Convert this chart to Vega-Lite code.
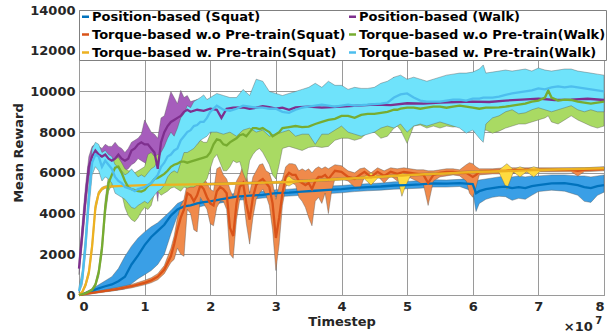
{
  "$schema": "https://vega.github.io/schema/vega-lite/v6.json",
  "width": 525,
  "height": 285,
  "autosize": "none",
  "padding": {"left": 79, "top": 10, "right": 11, "bottom": 40},
  "background": "white",
  "config": {
    "view": {"stroke": "#808080", "strokeWidth": 1},
    "axis": {
      "labelFont": "DejaVu Sans", "labelFontSize": 13, "labelFontWeight": "bold", "labelColor": "#262626",
      "titleFont": "DejaVu Sans", "titleFontSize": 13, "titleFontWeight": "bold", "titleColor": "#262626",
      "gridColor": "#9a9a9a", "gridWidth": 1, "domain": false, "ticks": false
    }
  },
  "datasets": {
    "runs": [
      {"s":"PS","t":0,"m":0,"lo":0,"hi":0},
      {"s":"PS","t":0.1,"m":80,"lo":30,"hi":150},
      {"s":"PS","t":0.2,"m":200,"lo":80,"hi":300},
      {"s":"PS","t":0.3,"m":330,"lo":150,"hi":500},
      {"s":"PS","t":0.4,"m":430,"lo":170,"hi":700},
      {"s":"PS","t":0.5,"m":520,"lo":200,"hi":900},
      {"s":"PS","t":0.6,"m":680,"lo":250,"hi":1300},
      {"s":"PS","t":0.7,"m":900,"lo":300,"hi":1900},
      {"s":"PS","t":0.8,"m":1500,"lo":550,"hi":2400},
      {"s":"PS","t":0.9,"m":1950,"lo":800,"hi":2800},
      {"s":"PS","t":1.0,"m":2450,"lo":1000,"hi":3100},
      {"s":"PS","t":1.1,"m":2850,"lo":1200,"hi":3350},
      {"s":"PS","t":1.2,"m":3150,"lo":1500,"hi":3550},
      {"s":"PS","t":1.3,"m":3450,"lo":2000,"hi":3850},
      {"s":"PS","t":1.4,"m":3900,"lo":3000,"hi":4150},
      {"s":"PS","t":1.5,"m":4200,"lo":3900,"hi":4500},
      {"s":"PS","t":1.6,"m":4350,"lo":4150,"hi":4650},
      {"s":"PS","t":1.7,"m":4400,"lo":4200,"hi":4650},
      {"s":"PS","t":1.8,"m":4500,"lo":4300,"hi":4700},
      {"s":"PS","t":1.9,"m":4560,"lo":4380,"hi":4760},
      {"s":"PS","t":2.0,"m":4600,"lo":4420,"hi":4800},
      {"s":"PS","t":2.2,"m":4720,"lo":4550,"hi":4900},
      {"s":"PS","t":2.4,"m":4830,"lo":4650,"hi":5000},
      {"s":"PS","t":2.6,"m":4880,"lo":4700,"hi":5060},
      {"s":"PS","t":2.8,"m":4920,"lo":4760,"hi":5100},
      {"s":"PS","t":3.0,"m":5000,"lo":4830,"hi":5170},
      {"s":"PS","t":3.2,"m":5030,"lo":4860,"hi":5200},
      {"s":"PS","t":3.4,"m":5080,"lo":4900,"hi":5250},
      {"s":"PS","t":3.6,"m":5120,"lo":4950,"hi":5300},
      {"s":"PS","t":3.8,"m":5160,"lo":4980,"hi":5350},
      {"s":"PS","t":4.0,"m":5200,"lo":5020,"hi":5380},
      {"s":"PS","t":4.2,"m":5260,"lo":5080,"hi":5430},
      {"s":"PS","t":4.4,"m":5300,"lo":5120,"hi":5470},
      {"s":"PS","t":4.6,"m":5330,"lo":5150,"hi":5500},
      {"s":"PS","t":4.8,"m":5380,"lo":5200,"hi":5560},
      {"s":"PS","t":5.0,"m":5400,"lo":5220,"hi":5580},
      {"s":"PS","t":5.2,"m":5430,"lo":5250,"hi":5620},
      {"s":"PS","t":5.4,"m":5480,"lo":5300,"hi":5660},
      {"s":"PS","t":5.6,"m":5470,"lo":5300,"hi":5650},
      {"s":"PS","t":5.8,"m":5500,"lo":5330,"hi":5680},
      {"s":"PS","t":6.0,"m":5450,"lo":5100,"hi":5750},
      {"s":"PS","t":6.05,"m":5000,"lo":4100,"hi":5600},
      {"s":"PS","t":6.1,"m":5100,"lo":4500,"hi":5650},
      {"s":"PS","t":6.2,"m":5200,"lo":4700,"hi":5700},
      {"s":"PS","t":6.3,"m":5250,"lo":4800,"hi":5750},
      {"s":"PS","t":6.4,"m":5300,"lo":4850,"hi":5800},
      {"s":"PS","t":6.5,"m":5320,"lo":4830,"hi":5850},
      {"s":"PS","t":6.6,"m":5250,"lo":4650,"hi":5800},
      {"s":"PS","t":6.7,"m":5300,"lo":4750,"hi":5850},
      {"s":"PS","t":6.8,"m":5250,"lo":4700,"hi":5800},
      {"s":"PS","t":6.9,"m":5350,"lo":4900,"hi":5850},
      {"s":"PS","t":7.0,"m":5400,"lo":5080,"hi":5850},
      {"s":"PS","t":7.2,"m":5480,"lo":5150,"hi":5900},
      {"s":"PS","t":7.4,"m":5500,"lo":5100,"hi":5900},
      {"s":"PS","t":7.6,"m":5400,"lo":4900,"hi":5850},
      {"s":"PS","t":7.7,"m":5300,"lo":4600,"hi":5850},
      {"s":"PS","t":7.8,"m":5250,"lo":4550,"hi":5800},
      {"s":"PS","t":7.9,"m":5350,"lo":4900,"hi":5850},
      {"s":"PS","t":8.0,"m":5400,"lo":5050,"hi":5900},

      {"s":"ToS","t":0,"m":0,"lo":0,"hi":0},
      {"s":"ToS","t":0.2,"m":100,"lo":60,"hi":140},
      {"s":"ToS","t":0.4,"m":200,"lo":150,"hi":260},
      {"s":"ToS","t":0.6,"m":300,"lo":240,"hi":380},
      {"s":"ToS","t":0.8,"m":430,"lo":350,"hi":520},
      {"s":"ToS","t":1.0,"m":600,"lo":500,"hi":720},
      {"s":"ToS","t":1.1,"m":720,"lo":600,"hi":850},
      {"s":"ToS","t":1.2,"m":900,"lo":750,"hi":1050},
      {"s":"ToS","t":1.3,"m":1250,"lo":1050,"hi":1450},
      {"s":"ToS","t":1.4,"m":1900,"lo":1600,"hi":2300},
      {"s":"ToS","t":1.45,"m":2500,"lo":1750,"hi":2900},
      {"s":"ToS","t":1.5,"m":3200,"lo":2300,"hi":3800},
      {"s":"ToS","t":1.55,"m":3800,"lo":2000,"hi":4400},
      {"s":"ToS","t":1.6,"m":4200,"lo":1900,"hi":4700},
      {"s":"ToS","t":1.65,"m":5000,"lo":4200,"hi":5500},
      {"s":"ToS","t":1.7,"m":4900,"lo":4000,"hi":5600},
      {"s":"ToS","t":1.75,"m":4600,"lo":3200,"hi":5300},
      {"s":"ToS","t":1.8,"m":4900,"lo":3100,"hi":5500},
      {"s":"ToS","t":1.85,"m":5400,"lo":4800,"hi":5900},
      {"s":"ToS","t":1.9,"m":5200,"lo":4500,"hi":5800},
      {"s":"ToS","t":1.95,"m":4800,"lo":4200,"hi":5500},
      {"s":"ToS","t":2.0,"m":4500,"lo":3500,"hi":5200},
      {"s":"ToS","t":2.05,"m":4400,"lo":3400,"hi":5100},
      {"s":"ToS","t":2.1,"m":5100,"lo":4300,"hi":6200},
      {"s":"ToS","t":2.15,"m":5300,"lo":4600,"hi":6300},
      {"s":"ToS","t":2.2,"m":5200,"lo":4600,"hi":5900},
      {"s":"ToS","t":2.25,"m":5000,"lo":4200,"hi":5700},
      {"s":"ToS","t":2.3,"m":3300,"lo":2000,"hi":5200},
      {"s":"ToS","t":2.35,"m":2900,"lo":1800,"hi":4800},
      {"s":"ToS","t":2.4,"m":4500,"lo":3700,"hi":5600},
      {"s":"ToS","t":2.45,"m":5300,"lo":4700,"hi":5900},
      {"s":"ToS","t":2.5,"m":5500,"lo":4900,"hi":6400},
      {"s":"ToS","t":2.55,"m":4500,"lo":3500,"hi":6000},
      {"s":"ToS","t":2.6,"m":3700,"lo":2500,"hi":5000},
      {"s":"ToS","t":2.65,"m":4800,"lo":3800,"hi":5800},
      {"s":"ToS","t":2.7,"m":5400,"lo":4700,"hi":6100},
      {"s":"ToS","t":2.75,"m":5600,"lo":5000,"hi":6400},
      {"s":"ToS","t":2.8,"m":5700,"lo":5200,"hi":6450},
      {"s":"ToS","t":2.85,"m":5500,"lo":4900,"hi":6100},
      {"s":"ToS","t":2.9,"m":5300,"lo":4400,"hi":6000},
      {"s":"ToS","t":2.95,"m":4500,"lo":3200,"hi":5500},
      {"s":"ToS","t":3.0,"m":2800,"lo":1200,"hi":4700},
      {"s":"ToS","t":3.05,"m":3800,"lo":2500,"hi":5400},
      {"s":"ToS","t":3.1,"m":5000,"lo":4400,"hi":5700},
      {"s":"ToS","t":3.15,"m":5800,"lo":5300,"hi":6300},
      {"s":"ToS","t":3.2,"m":6000,"lo":5600,"hi":6450},
      {"s":"ToS","t":3.25,"m":5900,"lo":5500,"hi":6450},
      {"s":"ToS","t":3.3,"m":5900,"lo":5400,"hi":6400},
      {"s":"ToS","t":3.35,"m":5600,"lo":4800,"hi":6100},
      {"s":"ToS","t":3.4,"m":5500,"lo":4600,"hi":6200},
      {"s":"ToS","t":3.45,"m":5400,"lo":4300,"hi":6100},
      {"s":"ToS","t":3.5,"m":5500,"lo":3800,"hi":6200},
      {"s":"ToS","t":3.55,"m":5200,"lo":3400,"hi":6000},
      {"s":"ToS","t":3.6,"m":5600,"lo":4600,"hi":6200},
      {"s":"ToS","t":3.65,"m":5800,"lo":4800,"hi":6300},
      {"s":"ToS","t":3.7,"m":5800,"lo":4500,"hi":6200},
      {"s":"ToS","t":3.75,"m":5900,"lo":5000,"hi":6300},
      {"s":"ToS","t":3.8,"m":5700,"lo":4000,"hi":6200},
      {"s":"ToS","t":3.85,"m":5900,"lo":5100,"hi":6300},
      {"s":"ToS","t":3.9,"m":6100,"lo":5700,"hi":6400},
      {"s":"ToS","t":4.0,"m":6050,"lo":5700,"hi":6350},
      {"s":"ToS","t":4.1,"m":5800,"lo":5600,"hi":6100},
      {"s":"ToS","t":4.2,"m":5700,"lo":5300,"hi":6000},
      {"s":"ToS","t":4.28,"m":5900,"lo":5200,"hi":6200},
      {"s":"ToS","t":4.35,"m":6050,"lo":5800,"hi":6250},
      {"s":"ToS","t":4.45,"m":5800,"lo":5400,"hi":6000},
      {"s":"ToS","t":4.55,"m":6050,"lo":5850,"hi":6250},
      {"s":"ToS","t":4.65,"m":5850,"lo":5500,"hi":6100},
      {"s":"ToS","t":4.75,"m":6050,"lo":5850,"hi":6250},
      {"s":"ToS","t":4.85,"m":5950,"lo":5600,"hi":6200},
      {"s":"ToS","t":4.95,"m":6050,"lo":5800,"hi":6250},
      {"s":"ToS","t":5.05,"m":6000,"lo":5750,"hi":6200},
      {"s":"ToS","t":5.15,"m":5950,"lo":5600,"hi":6150},
      {"s":"ToS","t":5.25,"m":5900,"lo":5400,"hi":6150},
      {"s":"ToS","t":5.32,"m":5500,"lo":4400,"hi":6100},
      {"s":"ToS","t":5.4,"m":5900,"lo":5600,"hi":6100},
      {"s":"ToS","t":5.5,"m":6000,"lo":5800,"hi":6150},
      {"s":"ToS","t":5.6,"m":6050,"lo":5850,"hi":6200},
      {"s":"ToS","t":5.7,"m":6050,"lo":5900,"hi":6200},
      {"s":"ToS","t":5.8,"m":6000,"lo":5850,"hi":6150},
      {"s":"ToS","t":5.9,"m":6000,"lo":5600,"hi":6400},
      {"s":"ToS","t":5.95,"m":5900,"lo":5000,"hi":6500},
      {"s":"ToS","t":6.0,"m":5800,"lo":4800,"hi":6450},
      {"s":"ToS","t":6.05,"m":5900,"lo":5300,"hi":6300},
      {"s":"ToS","t":6.1,"m":6050,"lo":5900,"hi":6200},
      {"s":"ToS","t":6.3,"m":6100,"lo":5950,"hi":6200},
      {"s":"ToS","t":6.5,"m":6100,"lo":5950,"hi":6250},
      {"s":"ToS","t":6.7,"m":6150,"lo":6000,"hi":6250},
      {"s":"ToS","t":7.0,"m":6150,"lo":6050,"hi":6250},
      {"s":"ToS","t":7.3,"m":6150,"lo":6050,"hi":6250},
      {"s":"ToS","t":7.5,"m":6150,"lo":6050,"hi":6250},
      {"s":"ToS","t":7.6,"m":6100,"lo":5850,"hi":6250},
      {"s":"ToS","t":7.7,"m":6150,"lo":6050,"hi":6250},
      {"s":"ToS","t":8.0,"m":6200,"lo":6100,"hi":6300},

      {"s":"TwS","t":0,"m":0,"lo":0,"hi":0},
      {"s":"TwS","t":0.05,"m":150,"lo":100,"hi":200},
      {"s":"TwS","t":0.1,"m":500,"lo":400,"hi":600},
      {"s":"TwS","t":0.15,"m":1100,"lo":950,"hi":1250},
      {"s":"TwS","t":0.2,"m":2400,"lo":2200,"hi":2600},
      {"s":"TwS","t":0.25,"m":4300,"lo":4100,"hi":4500},
      {"s":"TwS","t":0.3,"m":5000,"lo":4900,"hi":5100},
      {"s":"TwS","t":0.35,"m":5220,"lo":5150,"hi":5290},
      {"s":"TwS","t":0.4,"m":5300,"lo":5240,"hi":5360},
      {"s":"TwS","t":0.5,"m":5340,"lo":5290,"hi":5390},
      {"s":"TwS","t":1.0,"m":5400,"lo":5350,"hi":5450},
      {"s":"TwS","t":1.5,"m":5420,"lo":5370,"hi":5470},
      {"s":"TwS","t":2.0,"m":5450,"lo":5400,"hi":5500},
      {"s":"TwS","t":2.5,"m":5490,"lo":5440,"hi":5540},
      {"s":"TwS","t":3.0,"m":5530,"lo":5480,"hi":5580},
      {"s":"TwS","t":3.1,"m":5540,"lo":5480,"hi":5600},
      {"s":"TwS","t":3.2,"m":5550,"lo":5350,"hi":5850},
      {"s":"TwS","t":3.25,"m":5560,"lo":5450,"hi":5700},
      {"s":"TwS","t":3.3,"m":5580,"lo":5520,"hi":5640},
      {"s":"TwS","t":3.5,"m":5610,"lo":5550,"hi":5670},
      {"s":"TwS","t":4.0,"m":5700,"lo":5640,"hi":5760},
      {"s":"TwS","t":4.35,"m":5760,"lo":5700,"hi":5820},
      {"s":"TwS","t":4.45,"m":5780,"lo":5400,"hi":6000},
      {"s":"TwS","t":4.55,"m":5800,"lo":5740,"hi":5860},
      {"s":"TwS","t":4.85,"m":5860,"lo":5800,"hi":5920},
      {"s":"TwS","t":4.92,"m":5870,"lo":4850,"hi":6000},
      {"s":"TwS","t":4.97,"m":5880,"lo":5300,"hi":5950},
      {"s":"TwS","t":5.05,"m":5900,"lo":5840,"hi":5960},
      {"s":"TwS","t":5.5,"m":5960,"lo":5900,"hi":6020},
      {"s":"TwS","t":6.0,"m":6040,"lo":5980,"hi":6100},
      {"s":"TwS","t":6.4,"m":6080,"lo":6020,"hi":6140},
      {"s":"TwS","t":6.52,"m":6090,"lo":5200,"hi":6450},
      {"s":"TwS","t":6.62,"m":6100,"lo":6040,"hi":6160},
      {"s":"TwS","t":6.72,"m":6110,"lo":5800,"hi":6300},
      {"s":"TwS","t":6.82,"m":6120,"lo":6060,"hi":6180},
      {"s":"TwS","t":6.93,"m":6130,"lo":5800,"hi":6300},
      {"s":"TwS","t":7.03,"m":6140,"lo":6080,"hi":6200},
      {"s":"TwS","t":7.5,"m":6180,"lo":6120,"hi":6240},
      {"s":"TwS","t":8.0,"m":6220,"lo":6160,"hi":6280},

      {"s":"PW","t":0,"m":1300,"lo":1000,"hi":1700},
      {"s":"PW","t":0.05,"m":3000,"lo":2500,"hi":3600},
      {"s":"PW","t":0.1,"m":4800,"lo":4200,"hi":5400},
      {"s":"PW","t":0.15,"m":6300,"lo":5800,"hi":6800},
      {"s":"PW","t":0.2,"m":6800,"lo":6200,"hi":7300},
      {"s":"PW","t":0.25,"m":7100,"lo":6500,"hi":7400},
      {"s":"PW","t":0.3,"m":6900,"lo":6300,"hi":7300},
      {"s":"PW","t":0.35,"m":6800,"lo":6100,"hi":7200},
      {"s":"PW","t":0.4,"m":6900,"lo":6200,"hi":7400},
      {"s":"PW","t":0.45,"m":6700,"lo":6100,"hi":7300},
      {"s":"PW","t":0.5,"m":6600,"lo":6000,"hi":7300},
      {"s":"PW","t":0.55,"m":6700,"lo":6000,"hi":7500},
      {"s":"PW","t":0.6,"m":6900,"lo":5900,"hi":7300},
      {"s":"PW","t":0.65,"m":6700,"lo":6000,"hi":7200},
      {"s":"PW","t":0.7,"m":6600,"lo":6100,"hi":7000},
      {"s":"PW","t":0.75,"m":6700,"lo":6200,"hi":7200},
      {"s":"PW","t":0.8,"m":7100,"lo":6400,"hi":7500},
      {"s":"PW","t":0.85,"m":7200,"lo":6500,"hi":7600},
      {"s":"PW","t":0.9,"m":7400,"lo":6700,"hi":7700},
      {"s":"PW","t":0.95,"m":7500,"lo":6600,"hi":7900},
      {"s":"PW","t":1.0,"m":7400,"lo":6500,"hi":8600},
      {"s":"PW","t":1.05,"m":7400,"lo":6400,"hi":8300},
      {"s":"PW","t":1.1,"m":7200,"lo":6200,"hi":8000},
      {"s":"PW","t":1.15,"m":7000,"lo":5800,"hi":7900},
      {"s":"PW","t":1.2,"m":6200,"lo":4600,"hi":7700},
      {"s":"PW","t":1.25,"m":7500,"lo":6400,"hi":8700},
      {"s":"PW","t":1.3,"m":8000,"lo":7000,"hi":8800},
      {"s":"PW","t":1.35,"m":8300,"lo":7300,"hi":9400},
      {"s":"PW","t":1.4,"m":8500,"lo":7600,"hi":9990},
      {"s":"PW","t":1.45,"m":8600,"lo":7700,"hi":9700},
      {"s":"PW","t":1.5,"m":8700,"lo":7900,"hi":9400},
      {"s":"PW","t":1.55,"m":8800,"lo":8000,"hi":10050},
      {"s":"PW","t":1.6,"m":9000,"lo":8100,"hi":9700},
      {"s":"PW","t":1.65,"m":9100,"lo":8300,"hi":9800},
      {"s":"PW","t":1.7,"m":9000,"lo":8500,"hi":9500},
      {"s":"PW","t":1.8,"m":9100,"lo":8700,"hi":9600},
      {"s":"PW","t":1.9,"m":9050,"lo":8600,"hi":9500},
      {"s":"PW","t":2.0,"m":9150,"lo":8800,"hi":9400},
      {"s":"PW","t":2.1,"m":9100,"lo":8800,"hi":9350},
      {"s":"PW","t":2.17,"m":8700,"lo":8000,"hi":9300},
      {"s":"PW","t":2.25,"m":9150,"lo":8900,"hi":9400},
      {"s":"PW","t":2.35,"m":9200,"lo":9000,"hi":9400},
      {"s":"PW","t":2.5,"m":9220,"lo":9050,"hi":9400},
      {"s":"PW","t":2.6,"m":9150,"lo":9000,"hi":9350},
      {"s":"PW","t":2.7,"m":9200,"lo":9050,"hi":9350},
      {"s":"PW","t":2.8,"m":9280,"lo":9120,"hi":9420},
      {"s":"PW","t":2.9,"m":9230,"lo":9080,"hi":9380},
      {"s":"PW","t":3.0,"m":9150,"lo":8950,"hi":9320},
      {"s":"PW","t":3.1,"m":9200,"lo":9050,"hi":9350},
      {"s":"PW","t":3.2,"m":9100,"lo":8700,"hi":9350},
      {"s":"PW","t":3.3,"m":9220,"lo":9080,"hi":9360},
      {"s":"PW","t":3.5,"m":9250,"lo":9100,"hi":9400},
      {"s":"PW","t":3.7,"m":9200,"lo":9080,"hi":9330},
      {"s":"PW","t":4.0,"m":9250,"lo":9130,"hi":9380},
      {"s":"PW","t":4.25,"m":9300,"lo":9180,"hi":9420},
      {"s":"PW","t":4.5,"m":9350,"lo":9230,"hi":9470},
      {"s":"PW","t":4.75,"m":9330,"lo":9210,"hi":9450},
      {"s":"PW","t":5.0,"m":9420,"lo":9300,"hi":9540},
      {"s":"PW","t":5.25,"m":9400,"lo":9280,"hi":9520},
      {"s":"PW","t":5.5,"m":9450,"lo":9330,"hi":9570},
      {"s":"PW","t":5.75,"m":9480,"lo":9360,"hi":9600},
      {"s":"PW","t":6.0,"m":9500,"lo":9380,"hi":9620},
      {"s":"PW","t":6.25,"m":9480,"lo":9360,"hi":9600},
      {"s":"PW","t":6.5,"m":9550,"lo":9430,"hi":9670},
      {"s":"PW","t":6.75,"m":9600,"lo":9480,"hi":9720},
      {"s":"PW","t":7.0,"m":9650,"lo":9530,"hi":9770},
      {"s":"PW","t":7.25,"m":9580,"lo":9460,"hi":9700},
      {"s":"PW","t":7.5,"m":9600,"lo":9480,"hi":9720},
      {"s":"PW","t":7.75,"m":9640,"lo":9520,"hi":9760},
      {"s":"PW","t":8.0,"m":9580,"lo":9460,"hi":9700},

      {"s":"ToW","t":0,"m":0,"lo":0,"hi":0},
      {"s":"ToW","t":0.1,"m":80,"lo":40,"hi":120},
      {"s":"ToW","t":0.2,"m":250,"lo":180,"hi":320},
      {"s":"ToW","t":0.25,"m":500,"lo":400,"hi":600},
      {"s":"ToW","t":0.3,"m":1100,"lo":900,"hi":1300},
      {"s":"ToW","t":0.35,"m":2300,"lo":2000,"hi":2600},
      {"s":"ToW","t":0.4,"m":4300,"lo":3900,"hi":4700},
      {"s":"ToW","t":0.45,"m":5500,"lo":5100,"hi":5900},
      {"s":"ToW","t":0.5,"m":5900,"lo":5400,"hi":6400},
      {"s":"ToW","t":0.55,"m":6250,"lo":5600,"hi":6700},
      {"s":"ToW","t":0.6,"m":6300,"lo":5500,"hi":6750},
      {"s":"ToW","t":0.65,"m":6000,"lo":5000,"hi":6500},
      {"s":"ToW","t":0.7,"m":5600,"lo":4300,"hi":6200},
      {"s":"ToW","t":0.75,"m":5300,"lo":3900,"hi":6100},
      {"s":"ToW","t":0.8,"m":5200,"lo":3700,"hi":6100},
      {"s":"ToW","t":0.85,"m":5150,"lo":3600,"hi":6000},
      {"s":"ToW","t":0.9,"m":5100,"lo":3800,"hi":6100},
      {"s":"ToW","t":0.95,"m":5080,"lo":4100,"hi":6200},
      {"s":"ToW","t":1.0,"m":5150,"lo":4300,"hi":6300},
      {"s":"ToW","t":1.05,"m":5350,"lo":4200,"hi":6900},
      {"s":"ToW","t":1.1,"m":5500,"lo":4400,"hi":7000},
      {"s":"ToW","t":1.15,"m":5700,"lo":5000,"hi":6800},
      {"s":"ToW","t":1.2,"m":5750,"lo":5100,"hi":6900},
      {"s":"ToW","t":1.25,"m":5850,"lo":4900,"hi":6900},
      {"s":"ToW","t":1.3,"m":5950,"lo":5000,"hi":6900},
      {"s":"ToW","t":1.35,"m":6100,"lo":5100,"hi":6850},
      {"s":"ToW","t":1.4,"m":6300,"lo":5250,"hi":6900},
      {"s":"ToW","t":1.45,"m":6400,"lo":5300,"hi":7000},
      {"s":"ToW","t":1.5,"m":6450,"lo":5200,"hi":7100},
      {"s":"ToW","t":1.55,"m":6550,"lo":5100,"hi":7200},
      {"s":"ToW","t":1.6,"m":6550,"lo":5300,"hi":7300},
      {"s":"ToW","t":1.65,"m":6500,"lo":5250,"hi":7600},
      {"s":"ToW","t":1.7,"m":6550,"lo":5300,"hi":7700},
      {"s":"ToW","t":1.75,"m":6600,"lo":5300,"hi":7500},
      {"s":"ToW","t":1.8,"m":6650,"lo":5400,"hi":7400},
      {"s":"ToW","t":1.85,"m":6700,"lo":5400,"hi":7600},
      {"s":"ToW","t":1.9,"m":6750,"lo":5500,"hi":7500},
      {"s":"ToW","t":1.95,"m":6800,"lo":5700,"hi":7500},
      {"s":"ToW","t":2.0,"m":7000,"lo":6200,"hi":7900},
      {"s":"ToW","t":2.05,"m":7400,"lo":6700,"hi":8200},
      {"s":"ToW","t":2.1,"m":7650,"lo":6900,"hi":8500},
      {"s":"ToW","t":2.15,"m":7600,"lo":6500,"hi":8300},
      {"s":"ToW","t":2.2,"m":7400,"lo":6100,"hi":8000},
      {"s":"ToW","t":2.25,"m":7350,"lo":6100,"hi":8100},
      {"s":"ToW","t":2.3,"m":7500,"lo":6300,"hi":8300},
      {"s":"ToW","t":2.35,"m":7600,"lo":6600,"hi":8200},
      {"s":"ToW","t":2.4,"m":7700,"lo":6500,"hi":8300},
      {"s":"ToW","t":2.45,"m":7850,"lo":6550,"hi":8500},
      {"s":"ToW","t":2.5,"m":7900,"lo":6000,"hi":9300},
      {"s":"ToW","t":2.55,"m":7800,"lo":5600,"hi":9000},
      {"s":"ToW","t":2.6,"m":8000,"lo":6600,"hi":8500},
      {"s":"ToW","t":2.65,"m":8200,"lo":6900,"hi":8700},
      {"s":"ToW","t":2.7,"m":8200,"lo":7100,"hi":8500},
      {"s":"ToW","t":2.75,"m":8150,"lo":7200,"hi":8600},
      {"s":"ToW","t":2.8,"m":8200,"lo":7000,"hi":8500},
      {"s":"ToW","t":2.85,"m":8100,"lo":6700,"hi":8600},
      {"s":"ToW","t":2.9,"m":8000,"lo":6400,"hi":8600},
      {"s":"ToW","t":2.95,"m":7800,"lo":5900,"hi":9300},
      {"s":"ToW","t":3.0,"m":7900,"lo":5700,"hi":9000},
      {"s":"ToW","t":3.05,"m":8000,"lo":6400,"hi":8500},
      {"s":"ToW","t":3.1,"m":8200,"lo":7200,"hi":8600},
      {"s":"ToW","t":3.2,"m":8250,"lo":7300,"hi":8700},
      {"s":"ToW","t":3.3,"m":8300,"lo":7200,"hi":8800},
      {"s":"ToW","t":3.4,"m":8250,"lo":7100,"hi":8700},
      {"s":"ToW","t":3.5,"m":8270,"lo":7250,"hi":8800},
      {"s":"ToW","t":3.6,"m":8400,"lo":7300,"hi":8900},
      {"s":"ToW","t":3.7,"m":8500,"lo":7250,"hi":8900},
      {"s":"ToW","t":3.8,"m":8600,"lo":7300,"hi":9000},
      {"s":"ToW","t":3.9,"m":8650,"lo":7600,"hi":9000},
      {"s":"ToW","t":4.0,"m":8800,"lo":7700,"hi":9200},
      {"s":"ToW","t":4.1,"m":8800,"lo":7700,"hi":9300},
      {"s":"ToW","t":4.2,"m":8700,"lo":7600,"hi":9200},
      {"s":"ToW","t":4.3,"m":8850,"lo":7700,"hi":9300},
      {"s":"ToW","t":4.4,"m":8900,"lo":8000,"hi":9400},
      {"s":"ToW","t":4.5,"m":8900,"lo":8000,"hi":9500},
      {"s":"ToW","t":4.6,"m":8950,"lo":7700,"hi":9500},
      {"s":"ToW","t":4.7,"m":9000,"lo":7800,"hi":10200},
      {"s":"ToW","t":4.8,"m":9100,"lo":8200,"hi":10700},
      {"s":"ToW","t":4.85,"m":9100,"lo":8300,"hi":10000},
      {"s":"ToW","t":4.9,"m":9150,"lo":8100,"hi":9500},
      {"s":"ToW","t":5.0,"m":9200,"lo":7450,"hi":9600},
      {"s":"ToW","t":5.1,"m":9200,"lo":8300,"hi":9600},
      {"s":"ToW","t":5.2,"m":9150,"lo":8350,"hi":9600},
      {"s":"ToW","t":5.3,"m":9200,"lo":8200,"hi":9700},
      {"s":"ToW","t":5.4,"m":9250,"lo":8300,"hi":9700},
      {"s":"ToW","t":5.5,"m":9250,"lo":8200,"hi":9700},
      {"s":"ToW","t":5.6,"m":9200,"lo":8300,"hi":9600},
      {"s":"ToW","t":5.7,"m":9250,"lo":8250,"hi":9700},
      {"s":"ToW","t":5.8,"m":9300,"lo":8300,"hi":9700},
      {"s":"ToW","t":5.9,"m":9250,"lo":8000,"hi":9700},
      {"s":"ToW","t":6.0,"m":9200,"lo":8300,"hi":9600},
      {"s":"ToW","t":6.1,"m":9150,"lo":8000,"hi":9600},
      {"s":"ToW","t":6.2,"m":9200,"lo":8100,"hi":9550},
      {"s":"ToW","t":6.3,"m":9200,"lo":7950,"hi":9600},
      {"s":"ToW","t":6.4,"m":9220,"lo":8050,"hi":9650},
      {"s":"ToW","t":6.5,"m":9250,"lo":8200,"hi":9700},
      {"s":"ToW","t":6.6,"m":9300,"lo":8300,"hi":9700},
      {"s":"ToW","t":6.7,"m":9350,"lo":8400,"hi":9750},
      {"s":"ToW","t":6.8,"m":9400,"lo":8400,"hi":9800},
      {"s":"ToW","t":6.9,"m":9500,"lo":8500,"hi":9900},
      {"s":"ToW","t":7.0,"m":9550,"lo":8600,"hi":9950},
      {"s":"ToW","t":7.1,"m":9700,"lo":8700,"hi":10100},
      {"s":"ToW","t":7.15,"m":10050,"lo":8800,"hi":10300},
      {"s":"ToW","t":7.2,"m":9700,"lo":8500,"hi":10000},
      {"s":"ToW","t":7.3,"m":9550,"lo":8400,"hi":9900},
      {"s":"ToW","t":7.4,"m":9600,"lo":8600,"hi":9950},
      {"s":"ToW","t":7.5,"m":9580,"lo":8800,"hi":9950},
      {"s":"ToW","t":7.6,"m":9500,"lo":8600,"hi":9900},
      {"s":"ToW","t":7.7,"m":9450,"lo":8450,"hi":9850},
      {"s":"ToW","t":7.8,"m":9400,"lo":8300,"hi":9800},
      {"s":"ToW","t":7.9,"m":9450,"lo":8200,"hi":9850},
      {"s":"ToW","t":8.0,"m":9500,"lo":8300,"hi":9900},

      {"s":"TwW","t":0,"m":200,"lo":100,"hi":400},
      {"s":"TwW","t":0.05,"m":800,"lo":500,"hi":1200},
      {"s":"TwW","t":0.1,"m":2500,"lo":2000,"hi":3000},
      {"s":"TwW","t":0.15,"m":4800,"lo":4200,"hi":5400},
      {"s":"TwW","t":0.2,"m":6500,"lo":5900,"hi":7200},
      {"s":"TwW","t":0.25,"m":6900,"lo":6300,"hi":7500},
      {"s":"TwW","t":0.3,"m":6800,"lo":6100,"hi":7400},
      {"s":"TwW","t":0.35,"m":6300,"lo":5600,"hi":7000},
      {"s":"TwW","t":0.4,"m":6600,"lo":5800,"hi":7100},
      {"s":"TwW","t":0.45,"m":6400,"lo":5700,"hi":6900},
      {"s":"TwW","t":0.5,"m":6200,"lo":5500,"hi":6800},
      {"s":"TwW","t":0.55,"m":5800,"lo":5000,"hi":6400},
      {"s":"TwW","t":0.6,"m":5600,"lo":4900,"hi":6300},
      {"s":"TwW","t":0.65,"m":5500,"lo":4800,"hi":6100},
      {"s":"TwW","t":0.7,"m":5300,"lo":4700,"hi":5900},
      {"s":"TwW","t":0.75,"m":5250,"lo":4500,"hi":6000},
      {"s":"TwW","t":0.8,"m":5200,"lo":4300,"hi":6200},
      {"s":"TwW","t":0.85,"m":5100,"lo":4250,"hi":6000},
      {"s":"TwW","t":0.9,"m":5200,"lo":4400,"hi":5800},
      {"s":"TwW","t":0.95,"m":5250,"lo":4500,"hi":5900},
      {"s":"TwW","t":1.0,"m":5300,"lo":4600,"hi":5800},
      {"s":"TwW","t":1.05,"m":5400,"lo":4500,"hi":6000},
      {"s":"TwW","t":1.1,"m":5500,"lo":4700,"hi":6200},
      {"s":"TwW","t":1.15,"m":5700,"lo":4900,"hi":6300},
      {"s":"TwW","t":1.2,"m":5900,"lo":5100,"hi":6600},
      {"s":"TwW","t":1.25,"m":6300,"lo":5200,"hi":7000},
      {"s":"TwW","t":1.3,"m":6500,"lo":5400,"hi":7300},
      {"s":"TwW","t":1.35,"m":6800,"lo":5800,"hi":7700},
      {"s":"TwW","t":1.4,"m":6900,"lo":6000,"hi":8000},
      {"s":"TwW","t":1.45,"m":7100,"lo":6100,"hi":7800},
      {"s":"TwW","t":1.5,"m":7200,"lo":6000,"hi":8200},
      {"s":"TwW","t":1.55,"m":7600,"lo":6500,"hi":8700},
      {"s":"TwW","t":1.6,"m":7800,"lo":7000,"hi":8900},
      {"s":"TwW","t":1.65,"m":8000,"lo":7000,"hi":9300},
      {"s":"TwW","t":1.7,"m":8100,"lo":7100,"hi":9200},
      {"s":"TwW","t":1.75,"m":8300,"lo":7200,"hi":9500},
      {"s":"TwW","t":1.8,"m":8350,"lo":7400,"hi":9600},
      {"s":"TwW","t":1.85,"m":8500,"lo":7600,"hi":9700},
      {"s":"TwW","t":1.9,"m":8500,"lo":7700,"hi":9830},
      {"s":"TwW","t":1.95,"m":8700,"lo":7800,"hi":9600},
      {"s":"TwW","t":2.0,"m":9000,"lo":8000,"hi":9700},
      {"s":"TwW","t":2.1,"m":9300,"lo":8000,"hi":9900},
      {"s":"TwW","t":2.2,"m":9100,"lo":7900,"hi":9800},
      {"s":"TwW","t":2.3,"m":9050,"lo":8000,"hi":9700},
      {"s":"TwW","t":2.4,"m":9150,"lo":7800,"hi":9700},
      {"s":"TwW","t":2.5,"m":9300,"lo":8100,"hi":10100},
      {"s":"TwW","t":2.6,"m":9250,"lo":8200,"hi":9800},
      {"s":"TwW","t":2.7,"m":9200,"lo":8000,"hi":10600},
      {"s":"TwW","t":2.8,"m":9200,"lo":8100,"hi":10500},
      {"s":"TwW","t":2.9,"m":9150,"lo":7800,"hi":10000},
      {"s":"TwW","t":3.0,"m":9150,"lo":7900,"hi":9900},
      {"s":"TwW","t":3.1,"m":9000,"lo":8000,"hi":9800},
      {"s":"TwW","t":3.2,"m":8950,"lo":8100,"hi":9900},
      {"s":"TwW","t":3.3,"m":9100,"lo":7800,"hi":10000},
      {"s":"TwW","t":3.4,"m":9200,"lo":7900,"hi":10100},
      {"s":"TwW","t":3.5,"m":9250,"lo":7900,"hi":10200},
      {"s":"TwW","t":3.6,"m":9300,"lo":7400,"hi":10400},
      {"s":"TwW","t":3.7,"m":9350,"lo":7900,"hi":10200},
      {"s":"TwW","t":3.8,"m":9300,"lo":7900,"hi":10500},
      {"s":"TwW","t":3.9,"m":9250,"lo":8100,"hi":10300},
      {"s":"TwW","t":4.0,"m":9300,"lo":8300,"hi":10300},
      {"s":"TwW","t":4.1,"m":9350,"lo":8000,"hi":10100},
      {"s":"TwW","t":4.2,"m":9300,"lo":7900,"hi":10200},
      {"s":"TwW","t":4.3,"m":9330,"lo":7800,"hi":10150},
      {"s":"TwW","t":4.4,"m":9350,"lo":7900,"hi":10150},
      {"s":"TwW","t":4.5,"m":9380,"lo":8000,"hi":10200},
      {"s":"TwW","t":4.6,"m":9400,"lo":8200,"hi":10400},
      {"s":"TwW","t":4.7,"m":9450,"lo":8300,"hi":10500},
      {"s":"TwW","t":4.8,"m":9700,"lo":8200,"hi":10700},
      {"s":"TwW","t":4.9,"m":9850,"lo":8400,"hi":10800},
      {"s":"TwW","t":5.0,"m":9900,"lo":8000,"hi":10600},
      {"s":"TwW","t":5.1,"m":9700,"lo":8300,"hi":10700},
      {"s":"TwW","t":5.2,"m":9550,"lo":8400,"hi":10600},
      {"s":"TwW","t":5.3,"m":9500,"lo":8300,"hi":10500},
      {"s":"TwW","t":5.4,"m":9500,"lo":8400,"hi":10600},
      {"s":"TwW","t":5.5,"m":9500,"lo":8500,"hi":10700},
      {"s":"TwW","t":5.6,"m":9550,"lo":8400,"hi":10800},
      {"s":"TwW","t":5.7,"m":9600,"lo":8300,"hi":10850},
      {"s":"TwW","t":5.8,"m":9600,"lo":8200,"hi":10900},
      {"s":"TwW","t":5.9,"m":9550,"lo":7950,"hi":10900},
      {"s":"TwW","t":6.0,"m":9650,"lo":8100,"hi":10950},
      {"s":"TwW","t":6.1,"m":9650,"lo":7700,"hi":11100},
      {"s":"TwW","t":6.16,"m":9700,"lo":7500,"hi":11300},
      {"s":"TwW","t":6.2,"m":9700,"lo":8400,"hi":10900},
      {"s":"TwW","t":6.3,"m":9700,"lo":8700,"hi":10950},
      {"s":"TwW","t":6.4,"m":9750,"lo":8800,"hi":11000},
      {"s":"TwW","t":6.5,"m":9830,"lo":9000,"hi":11050},
      {"s":"TwW","t":6.6,"m":9900,"lo":9100,"hi":11000},
      {"s":"TwW","t":6.7,"m":9950,"lo":8900,"hi":11050},
      {"s":"TwW","t":6.8,"m":10000,"lo":8950,"hi":11100},
      {"s":"TwW","t":6.9,"m":10050,"lo":9100,"hi":11000},
      {"s":"TwW","t":7.0,"m":10150,"lo":9200,"hi":11150},
      {"s":"TwW","t":7.1,"m":10100,"lo":9100,"hi":11050},
      {"s":"TwW","t":7.2,"m":10200,"lo":9000,"hi":11000},
      {"s":"TwW","t":7.3,"m":10250,"lo":9100,"hi":11050},
      {"s":"TwW","t":7.4,"m":10200,"lo":9200,"hi":11100},
      {"s":"TwW","t":7.5,"m":10250,"lo":9300,"hi":11100},
      {"s":"TwW","t":7.6,"m":10200,"lo":9100,"hi":11000},
      {"s":"TwW","t":7.7,"m":10150,"lo":9000,"hi":10950},
      {"s":"TwW","t":7.8,"m":10100,"lo":9100,"hi":10900},
      {"s":"TwW","t":7.9,"m":10050,"lo":9000,"hi":10850},
      {"s":"TwW","t":8.0,"m":10000,"lo":9000,"hi":10800}
    ]
  },
  "data": {"name": "runs"},
  "encoding": {
    "x": {"field": "t", "type": "quantitative", "scale": {"domain": [0, 8], "nice": false, "zero": false},
          "axis": {"title": "Timestep", "values": [0,1,2,3,4,5,6,7,8], "labelPadding": 5, "titlePadding": 2, "grid": true}},
    "y": {"type": "quantitative", "scale": {"domain": [0, 14000], "nice": false},
          "axis": {"title": "Mean Reward", "values": [0,2000,4000,6000,8000,10000,12000,14000], "format": "d", "labelPadding": 4, "titlePadding": 4, "grid": true}}
  },
  "layer": [
    {"transform": [{"filter": "datum.s == 'PS'"}], "mark": {"type": "area", "fill": "#3A9FE6", "stroke": "#555555", "strokeWidth": 0.4, "fillOpacity": 1},
     "encoding": {"y": {"field": "lo"}, "y2": {"field": "hi"}}},
    {"transform": [{"filter": "datum.s == 'ToS'"}], "mark": {"type": "area", "fill": "#F08A4B", "stroke": "#555555", "strokeWidth": 0.4, "fillOpacity": 1},
     "encoding": {"y": {"field": "lo"}, "y2": {"field": "hi"}}},
    {"transform": [{"filter": "datum.s == 'TwS'"}], "mark": {"type": "area", "fill": "#FFDB3F", "stroke": "#555555", "strokeWidth": 0.4, "fillOpacity": 1},
     "encoding": {"y": {"field": "lo"}, "y2": {"field": "hi"}}},
    {"transform": [{"filter": "datum.s == 'PW'"}], "mark": {"type": "area", "fill": "#A65DBC", "stroke": "#555555", "strokeWidth": 0.4, "fillOpacity": 1},
     "encoding": {"y": {"field": "lo"}, "y2": {"field": "hi"}}},
    {"transform": [{"filter": "datum.s == 'ToW'"}], "mark": {"type": "area", "fill": "#A9DA63", "stroke": "#555555", "strokeWidth": 0.4, "fillOpacity": 1},
     "encoding": {"y": {"field": "lo"}, "y2": {"field": "hi"}}},
    {"transform": [{"filter": "datum.s == 'TwW'"}], "mark": {"type": "area", "fill": "#6FE3FB", "stroke": "#555555", "strokeWidth": 0.4, "fillOpacity": 1},
     "encoding": {"y": {"field": "lo"}, "y2": {"field": "hi"}}},
    {"mark": {"type": "line", "strokeWidth": 2.3},
     "encoding": {
       "y": {"field": "m"},
       "stroke": {"field": "s", "type": "nominal",
         "scale": {"domain": ["PS","ToS","TwS","PW","ToW","TwW"],
                   "range": ["#0072BD","#D95319","#EDB120","#7E2F8E","#77AC30","#4DBEEE"]},
         "legend": {
           "title": null, "orient": "none", "legendX": 0, "legendY": 0, "columns": 2,
           "symbolType": "stroke", "symbolSize": 49, "symbolStrokeWidth": 2.5,
           "labelFont": "DejaVu Sans", "labelFontSize": 13, "labelFontWeight": "bold", "labelColor": "#000000",
           "labelOffset": 0, "labelLimit": 0, "columnPadding": -2, "rowPadding": 4, "padding": 0,
           "strokeColor": "#808080", "fillColor": "white",
           "labelExpr": "datum.label == 'PS' ? 'Position-based (Squat)' : datum.label == 'PW' ? 'Position-based (Walk)' : datum.label == 'ToS' ? 'Torque-based w.o Pre-train(Squat)' : datum.label == 'ToW' ? 'Torque-based w.o Pre-train(Walk)' : datum.label == 'TwS' ? 'Torque-based w. Pre-train(Squat)' : 'Torque-based w. Pre-train(Walk)'"
         }
       }
     }},
    {"data": {"values": [{"t": 7.83, "v": -1560, "txt": "×10"}]},
     "mark": {"type": "text", "font": "DejaVu Sans", "fontWeight": "bold", "fontSize": 13, "color": "#262626", "baseline": "middle", "align": "right"},
     "encoding": {
       "x": {"field": "t", "type": "quantitative"},
       "y": {"field": "v", "type": "quantitative"},
       "text": {"field": "txt"}
     }},
    {"data": {"values": [{"t": 7.865, "v": -1270, "txt": "7"}]},
     "mark": {"type": "text", "font": "DejaVu Sans", "fontWeight": "bold", "fontSize": 10, "color": "#262626", "baseline": "middle", "align": "left"},
     "encoding": {
       "x": {"field": "t", "type": "quantitative"},
       "y": {"field": "v", "type": "quantitative"},
       "text": {"field": "txt"}
     }}
  ]
}
